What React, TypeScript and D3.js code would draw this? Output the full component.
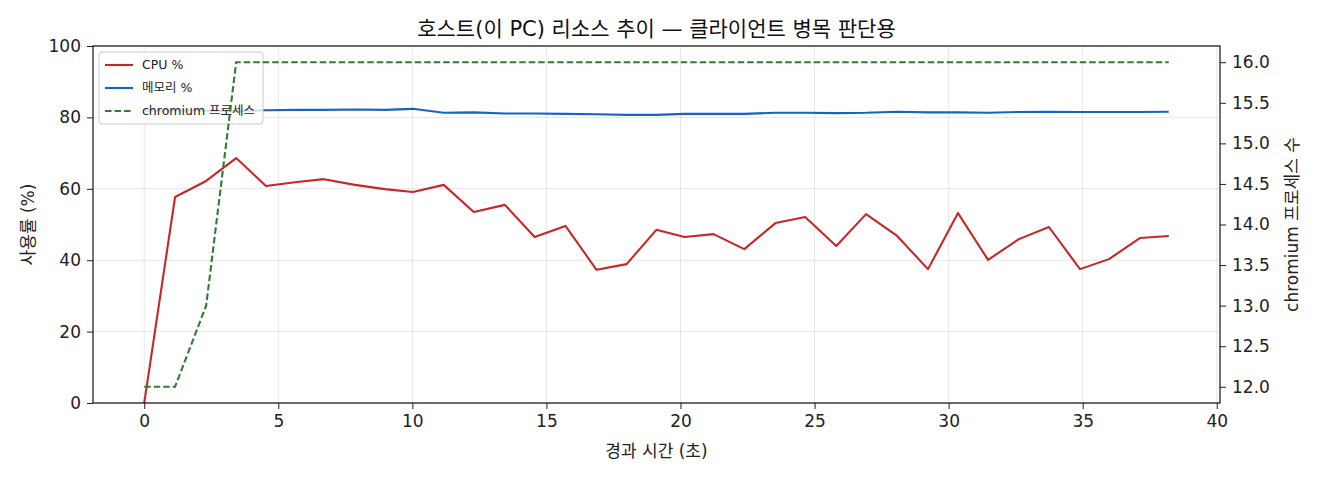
import * as React from 'react';
import * as d3 from 'd3';

const TIME = [
    0, 1.15, 2.31, 3.43, 4.54, 5.7, 6.7, 7.86, 8.97, 10.02, 11.17, 12.29, 13.45, 14.56, 15.71, 16.87, 17.99, 19.1,
    20.15, 21.23, 22.38, 23.54, 24.65, 25.81, 26.92, 28.08, 29.23, 30.35, 31.47, 32.62, 33.74, 34.9, 35.98, 37.13, 38.21
];
const CPU = [
    0, 57.7, 62.2, 68.6, 60.8, 61.9, 62.7, 61.1, 59.9, 59.1, 61.1, 53.5, 55.5, 46.5, 49.6, 37.3, 38.9, 48.5, 46.5,
    47.3, 43.1, 50.4, 52.1, 44.0, 52.9, 46.8, 37.5, 53.2, 40.1, 45.9, 49.3, 37.5, 40.3, 46.2, 46.8
];
const MEMORY = [
    81.9, 82.0, 81.9, 81.8, 82.0, 82.1, 82.1, 82.2, 82.1, 82.4, 81.3, 81.4, 81.1, 81.1, 81.0, 80.9, 80.7, 80.7, 81.0,
    81.0, 81.0, 81.3, 81.3, 81.2, 81.3, 81.6, 81.4, 81.4, 81.3, 81.5, 81.6, 81.5, 81.5, 81.5, 81.6
];
const PROCS = [12, 12, 13, 16, 16, 16, 16, 16, 16, 16, 16, 16, 16, 16, 16, 16, 16, 16, 16, 16, 16, 16, 16, 16, 16,
    16, 16, 16, 16, 16, 16, 16, 16, 16, 16];

const X_TICKS = [0, 5, 10, 15, 20, 25, 30, 35, 40];
const Y_TICKS = [0, 20, 40, 60, 80, 100];
const Y2_TICKS = [12.0, 12.5, 13.0, 13.5, 14.0, 14.5, 15.0, 15.5, 16.0];

const SERIES = [
    { name: 'CPU %', color: '#c62828', dash: null },
    { name: '메모리 %', color: '#1565c0', dash: null },
    { name: 'chromium 프로세스', color: '#2e7d32', dash: '6.5,3' }
];

const FONT = '"DejaVu Sans", "Noto Sans CJK KR", sans-serif';

interface Pt {
    t: number;
    v: number;
}

const App: React.FC = () => {
    const svgRef = React.useRef<SVGSVGElement>(null);

    React.useEffect(() => {
        const svg = d3.select(svgRef.current);
        svg.selectAll('*').remove();

        /** ******** Canvas ********* */
        const W = 1320;
        const H = 480;
        const MARGIN = { top: 46, right: 100, bottom: 77, left: 93 };
        const innerW = W - MARGIN.left - MARGIN.right;
        const innerH = H - MARGIN.top - MARGIN.bottom;

        const g = svg.append('g').attr('transform', `translate(${MARGIN.left},${MARGIN.top})`);

        // Scales (matplotlib style 5% margin on x and on the right axis)
        const xmax = d3.max(TIME)!;
        const xpad = xmax * 0.05;
        const x = d3.scaleLinear().domain([-xpad, xmax + xpad]).range([0, innerW]);
        const y = d3.scaleLinear().domain([0, 100]).range([innerH, 0]);
        const [pmin, pmax] = d3.extent(PROCS) as [number, number];
        const ppad = (pmax - pmin) * 0.05;
        const y2 = d3.scaleLinear().domain([pmin - ppad, pmax + ppad]).range([innerH, 0]);

        /** ******** Grid ********* */
        const grid = g.append('g').attr('stroke', '#b0b0b0').attr('stroke-opacity', 0.3).attr('stroke-width', 1);
        X_TICKS.forEach((t) => {
            grid.append('line').attr('x1', x(t)).attr('x2', x(t)).attr('y1', 0).attr('y2', innerH);
        });
        Y_TICKS.forEach((t) => {
            grid.append('line').attr('x1', 0).attr('x2', innerW).attr('y1', y(t)).attr('y2', y(t));
        });

        /** ******** Lines (left axis) ********* */
        const toPts = (vals: number[]): Pt[] => vals.map((v, i) => ({ t: TIME[i], v }));
        const line = d3.line<Pt>().x((d) => x(d.t)).y((d) => y(d.v));
        const line2 = d3.line<Pt>().x((d) => x(d.t)).y((d) => y2(d.v));

        const clip = svg.append('defs').append('clipPath').attr('id', 'plotclip');
        clip.append('rect').attr('x', 0).attr('y', 0).attr('width', innerW).attr('height', innerH);

        const plot = g.append('g').attr('clip-path', 'url(#plotclip)');
        plot.append('path').datum(toPts(CPU)).attr('d', line).attr('fill', 'none')
            .attr('stroke', SERIES[0].color).attr('stroke-width', 2.1).attr('stroke-linejoin', 'round');
        plot.append('path').datum(toPts(MEMORY)).attr('d', line).attr('fill', 'none')
            .attr('stroke', SERIES[1].color).attr('stroke-width', 2.1).attr('stroke-linejoin', 'round');

        /** ******** Legend ********* */
        const lg = g.append('g').attr('transform', 'translate(6,6)');
        lg.append('rect').attr('width', 164).attr('height', 72).attr('rx', 3)
            .attr('fill', 'white').attr('fill-opacity', 0.8).attr('stroke', '#cccccc').attr('stroke-width', 1);
        SERIES.forEach((s, i) => {
            const ly = 13 + i * 23;
            lg.append('line').attr('x1', 6).attr('x2', 34).attr('y1', ly).attr('y2', ly)
                .attr('stroke', s.color).attr('stroke-width', 2.1).attr('stroke-dasharray', s.dash);
            lg.append('text').attr('x', 43).attr('y', ly).attr('dy', '0.35em')
                .attr('font-size', 12.5).attr('fill', '#222').text(s.name);
        });

        /** ******** Right-axis line ********* */
        g.append('g').attr('clip-path', 'url(#plotclip)')
            .append('path').datum(toPts(PROCS)).attr('d', line2).attr('fill', 'none')
            .attr('stroke', SERIES[2].color).attr('stroke-width', 2.1).attr('stroke-dasharray', SERIES[2].dash);

        /** ******** Axes ********* */
        const TICK = 6;
        const PAD = 6;
        const xAxis = g.append('g').attr('transform', `translate(0,${innerH})`)
            .call(d3.axisBottom(x).tickValues(X_TICKS).tickSize(TICK).tickPadding(PAD).tickSizeOuter(0));
        const yAxis = g.append('g')
            .call(d3.axisLeft(y).tickValues(Y_TICKS).tickSize(TICK).tickPadding(PAD).tickSizeOuter(0));
        const y2Axis = g.append('g').attr('transform', `translate(${innerW},0)`)
            .call(d3.axisRight(y2).tickValues(Y2_TICKS).tickFormat(d3.format('.1f'))
                .tickSize(TICK).tickPadding(PAD).tickSizeOuter(0));
        [xAxis, yAxis, y2Axis].forEach((a) => {
            a.selectAll('text').attr('font-family', FONT).attr('font-size', 17).attr('fill', '#222');
            a.selectAll('line').attr('stroke', '#222');
            a.select('.domain').remove();
        });

        // spines
        g.append('rect').attr('width', innerW).attr('height', innerH)
            .attr('fill', 'none').attr('stroke', '#111').attr('stroke-width', 1.2);

        /** ******** Labels ********* */
        svg.append('text').attr('x', MARGIN.left + innerW / 2).attr('y', 36).attr('text-anchor', 'middle')
            .attr('font-size', 21).attr('fill', '#111').text('호스트(이 PC) 리소스 추이 — 클라이언트 병목 판단용');
        svg.append('text').attr('x', MARGIN.left + innerW / 2).attr('y', 457).attr('text-anchor', 'middle')
            .attr('font-size', 17).attr('fill', '#222').text('경과 시간 (초)');
        svg.append('text').attr('transform', `translate(34,${MARGIN.top + innerH / 2}) rotate(-90)`)
            .attr('text-anchor', 'middle').attr('font-size', 17).attr('fill', '#222').text('사용률 (%)');
        svg.append('text').attr('transform', `translate(1298,${MARGIN.top + innerH / 2}) rotate(-90)`)
            .attr('text-anchor', 'middle').attr('font-size', 17).attr('fill', '#222').text('chromium 프로세스 수');
    });

    return (
        <svg
            ref={svgRef}
            width={1320}
            height={480}
            style={{ position: 'absolute', left: 0, top: 0, background: 'white', fontFamily: FONT }}
        />
    );
};

export default App;
